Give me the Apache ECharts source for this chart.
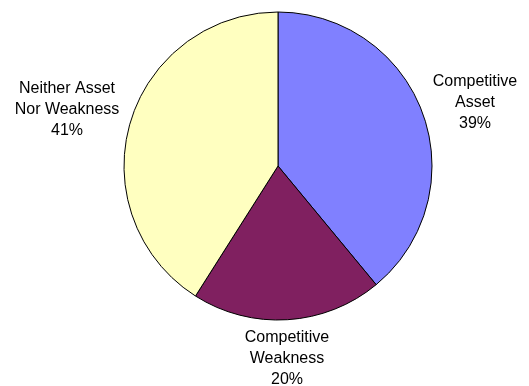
<!DOCTYPE html>
<html>
<head>
<meta charset="utf-8">
<script src="https://cdn.jsdelivr.net/npm/echarts@6/dist/echarts.min.js"></script>
<style>
  html, body { margin: 0; padding: 0; background: #fff; }
  #chart { width: 529px; height: 386px; }
</style>
</head>
<body>
<div id="chart"></div>
<script>
// Share of responses per category (percent)
const categories = ['Competitive\nAsset', 'Competitive\nWeakness', 'Neither Asset\nNor Weakness'];
const shares = [39, 20, 41];
const sliceColors = ['#8080FF', '#802060', '#FFFFC0'];
// Label anchor points (pixel centres) for each slice's caption
const labelAnchors = [[475, 103], [287, 359], [67, 110]];

const chart = echarts.init(document.getElementById('chart'), null, { renderer: 'canvas' });

chart.setOption({
  animation: false,
  backgroundColor: '#ffffff',
  series: [{
    type: 'pie',
    center: [278, 166],
    radius: [0, 154],
    startAngle: 90,
    clockwise: true,
    silent: true,
    avoidLabelOverlap: false,
    data: categories.map((name, i) => ({
      name: name,
      value: shares[i],
      itemStyle: { color: sliceColors[i] }
    })),
    itemStyle: { borderColor: '#000000', borderWidth: 1 },
    label: {
      show: true,
      position: 'outside',
      overflow: 'none',
      formatter: p => p.name + '\n' + p.value + '%',
      color: '#000000',
      fontFamily: '"Liberation Sans", Arial, sans-serif',
      fontSize: 16,
      lineHeight: 21,
      align: 'center',
      verticalAlign: 'middle'
    },
    labelLine: { show: false },
    labelLayout: params => {
      const a = labelAnchors[params.dataIndex];
      return { x: a[0], y: a[1], align: 'center', verticalAlign: 'middle' };
    }
  }]
});
</script>
</body>
</html>
